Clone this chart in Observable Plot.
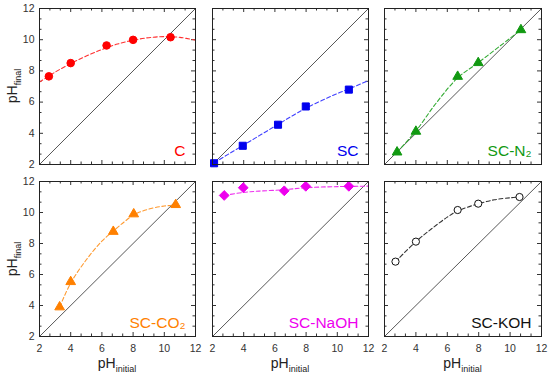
<!DOCTYPE html>
<html><head><meta charset="utf-8">
<script src="https://cdn.jsdelivr.net/npm/d3@7"></script>
<script src="https://cdn.jsdelivr.net/npm/@observablehq/plot@0.6"></script>
<style>
body{margin:0;background:#fff;}
#fig{position:relative;width:550px;height:376px;font-family:"Liberation Sans",Arial,sans-serif;overflow:hidden;}
#fig svg{position:absolute;left:0;top:0;}
.lab{position:absolute;font-size:14px;line-height:14px;color:#222;white-space:nowrap;}
.lab sub{font-size:9px;position:relative;top:4px;vertical-align:baseline;}
</style></head><body><div id="fig"></div>
<script>
// ---- data ----
const panelNames = ["C", "SC", "SC-N₂", "SC-CO₂", "SC-NaOH", "SC-KOH"];
const tickValues = [2, 4, 6, 8, 10, 12];
const diagonal = [2, 12];

const xC = [2.6, 4.0, 6.3, 8.0, 10.4];
const yC = [7.65, 8.5, 9.63, 9.99, 10.16];
const fitXC = [2, 3, 4, 5, 6, 7, 8, 9, 10, 11, 12];
const fitYC = [7.28, 7.92, 8.47, 8.95, 9.37, 9.72, 9.97, 10.13, 10.2, 10.15, 9.97];

const xSC = [2.1, 3.94, 6.2, 7.98, 10.74];
const ySC = [2.08, 3.2, 4.55, 5.72, 6.8];
const fitXSC = [2.1, 3, 4, 5, 6, 7, 8, 9, 10, 11, 12];
const fitYSC = [2.1, 2.65, 3.25, 3.85, 4.45, 5.05, 5.62, 6.1, 6.55, 6.95, 7.38];

const xN2 = [2.8, 4.0, 6.66, 7.97, 10.69];
const yN2 = [2.79, 4.12, 7.64, 8.52, 10.63];
const fitXN2 = [2.8, 4, 5.3, 6.66, 8, 9.3, 10.69];
const fitYN2 = [2.8, 4.15, 5.95, 7.55, 8.55, 9.55, 10.63];

const xCO2 = [3.29, 4.0, 6.73, 8.04, 10.73];
const yCO2 = [3.9, 5.53, 8.77, 9.9, 10.5];
const fitXCO2 = [3.29, 4, 5, 6, 6.73, 7.5, 8.04, 9, 10, 10.73];
const fitYCO2 = [3.9, 5.45, 6.95, 8.15, 8.8, 9.45, 9.85, 10.22, 10.42, 10.48];

const xNaOH = [2.75, 3.97, 6.6, 7.98, 10.74];
const yNaOH = [11.1, 11.6, 11.4, 11.69, 11.69];
const fitXNaOH = [2.75, 4, 5, 6.6, 8, 10, 12];
const fitYNaOH = [11.1, 11.3, 11.38, 11.47, 11.6, 11.67, 11.7];

const xKOH = [2.7, 4.0, 6.66, 7.97, 10.6];
const yKOH = [6.83, 8.12, 10.16, 10.57, 11.0];
const fitXKOH = [2.7, 4, 5, 6, 6.66, 8, 9, 10, 10.6];
const fitYKOH = [6.83, 8.12, 8.95, 9.7, 10.1, 10.57, 10.82, 10.95, 11.0];

// ---- build tables ----
const zip = (xs, ys) => xs.map((x, i) => ({x, y: ys[i]}));
const series = [
  {pts: zip(xC, yC), fit: zip(fitXC, fitYC), color: "#ff0000", line: "#ff3030", symbol: "circle", r: 3.8, fill: "#ff0000"},
  {pts: zip(xSC, ySC), fit: zip(fitXSC, fitYSC), color: "#0000ee", line: "#4040ff", symbol: "square", r: 4, fill: "#0000ee"},
  {pts: zip(xN2, yN2), fit: zip(fitXN2, fitYN2), color: "#119911", line: "#33aa33", symbol: "triangle", r: 3.6, fill: "#119911"},
  {pts: zip(xCO2, yCO2), fit: zip(fitXCO2, fitYCO2), color: "#ff8000", line: "#ff9a30", symbol: "triangle", r: 3.6, fill: "#ff8000"},
  {pts: zip(xNaOH, yNaOH), fit: zip(fitXNaOH, fitYNaOH), color: "#ee00ee", line: "#ee30ee", symbol: "diamond2", r: 4.4, fill: "#ee00ee"},
  {pts: zip(xKOH, yKOH), fit: zip(fitXKOH, fitYKOH), color: "#111111", line: "#333333", symbol: "circle", r: 3.6, fill: "#ffffff"}
];

const W = 550, H = 376;
const cols = [[39, 195], [212, 368], [384, 541]];
const rows = [[8, 164], [181, 336]];
const minorTicks = d3.range(2, 12.001, 2 / 3).filter(v => Math.abs(v / 2 - Math.round(v / 2)) > 1e-6);
const font = '"Liberation Sans", Arial, sans-serif';
const fig = document.getElementById("fig");

series.forEach((s, i) => {
  const col = i % 3, row = Math.floor(i / 3);
  const [x0, x1] = cols[col], [y0, y1] = rows[row];
  const iw = x1 - x0, ih = y1 - y0;
  const marks = [
    // inward ticks on all four sides
    Plot.tickX(tickValues, {x: d => d, insetTop: ih - 4, stroke: "#333", strokeWidth: 1}),
    Plot.tickX(tickValues, {x: d => d, insetBottom: ih - 4, stroke: "#333", strokeWidth: 1}),
    Plot.tickX(minorTicks, {x: d => d, insetTop: ih - 2.5, stroke: "#333", strokeWidth: 1}),
    Plot.tickX(minorTicks, {x: d => d, insetBottom: ih - 2.5, stroke: "#333", strokeWidth: 1}),
    Plot.tickY(tickValues, {y: d => d, insetRight: iw - 4, stroke: "#333", strokeWidth: 1}),
    Plot.tickY(tickValues, {y: d => d, insetLeft: iw - 4, stroke: "#333", strokeWidth: 1}),
    Plot.tickY(minorTicks, {y: d => d, insetRight: iw - 2.5, stroke: "#333", strokeWidth: 1}),
    Plot.tickY(minorTicks, {y: d => d, insetLeft: iw - 2.5, stroke: "#333", strokeWidth: 1}),
    Plot.line(diagonal, {x: d => d, y: d => d, stroke: "#444", strokeWidth: 0.9}),
    Plot.line(s.fit, {x: "x", y: "y", curve: "catmull-rom", stroke: s.line, strokeWidth: 1.1, strokeDasharray: "4,2.5"}),
    Plot.dot(s.pts, {x: "x", y: "y", symbol: () => s.symbol, r: s.r, fill: s.fill, stroke: s.color, strokeWidth: 1}),
    Plot.text([panelNames[i]], {text: d => d, frameAnchor: "bottom-right", dx: -10, dy: -9, textAnchor: "end", lineAnchor: "bottom", fontSize: 15.5, fill: s.color}),
    Plot.frame({stroke: "#222", strokeWidth: 1})
  ];
  if (col === 0) marks.push(Plot.axisY(tickValues, {anchor: "left", tickSize: 0, tickPadding: 5, label: null, fontSize: 10.5, fill: "#333"}));
  if (row === 1) marks.push(Plot.axisX(tickValues, {anchor: "bottom", tickSize: 0, tickPadding: 8, label: null, fontSize: 10.5, fill: "#333"}));
  const svg = Plot.plot({
    width: W, height: H,
    marginLeft: x0, marginRight: W - x1, marginTop: y0, marginBottom: H - y1,
    x: {domain: [2, 12], axis: null},
    y: {domain: [2, 12], axis: null},
    symbol: {type: "identity"},
    style: {background: "transparent", fontFamily: font, fontSize: "10.5px", color: "#333", overflow: "visible"},
    marks
  });
  fig.appendChild(svg);

  if (col === 0) {
    const yl = document.createElement("div");
    yl.className = "lab";
    yl.innerHTML = "pH<sub>final</sub>";
    yl.style.left = "13px";
    yl.style.top = ((y0 + y1) / 2) + "px";
    yl.style.transform = "translate(-50%,-50%) rotate(-90deg)";
    fig.appendChild(yl);
  }
  if (row === 1) {
    const xl = document.createElement("div");
    xl.className = "lab";
    xl.innerHTML = "pH<sub>initial</sub>";
    xl.style.left = ((x0 + x1) / 2) + "px";
    xl.style.top = "356px";
    xl.style.transform = "translateX(-50%)";
    fig.appendChild(xl);
  }
});
</script></body></html>
